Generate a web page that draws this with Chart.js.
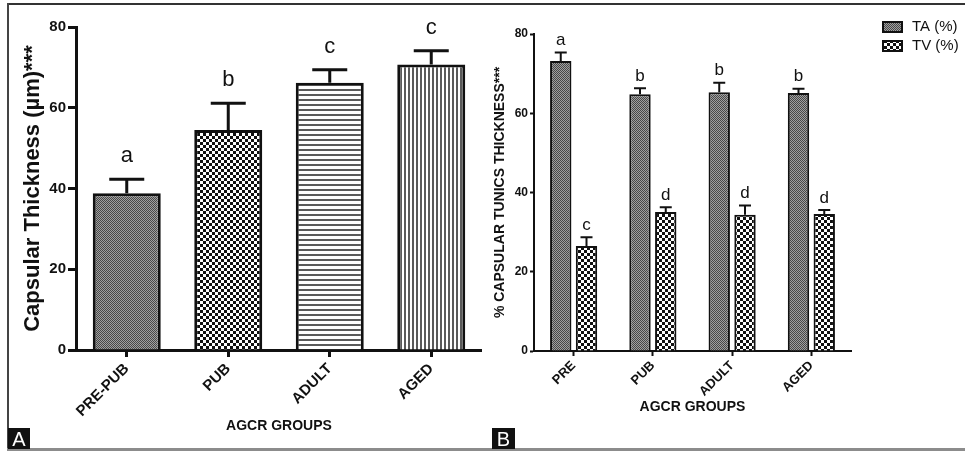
<!DOCTYPE html>
<html><head><meta charset="utf-8">
<script src="https://cdn.jsdelivr.net/npm/chart.js@4.4.0/dist/chart.umd.min.js"></script>
<style>
html,body{margin:0;padding:0;background:#fff;}
#wrap{position:relative;width:965px;height:451px;overflow:hidden;background:#fff;}
#ca{position:absolute;left:8px;top:4px;}
#cb{position:absolute;left:482px;top:4px;}
.fTop{position:absolute;left:7px;top:3px;width:958px;height:2px;background:#333;}
.fLeft{position:absolute;left:7px;top:3px;width:2px;height:446px;background:#444;}
.fBot{position:absolute;left:7px;top:448px;width:958px;height:3px;background:#8c8c8c;}
.tag{position:absolute;top:428px;height:21px;background:#111;color:#fff;font:20px "Liberation Sans",Arial,sans-serif;line-height:22px;text-align:center;}
</style></head>
<body><div id="wrap">
<canvas id="ca" width="474" height="445"></canvas>
<canvas id="cb" width="483" height="445"></canvas>
<div class="fTop"></div><div class="fLeft"></div><div class="fBot"></div>
<div class="tag" style="left:8px;width:22px;">A</div>
<div class="tag" style="left:492px;width:23px;">B</div>
</div>
<script>
// ---- data ----
const groupsA = ['PRE-PUB', 'PUB', 'ADULT', 'AGED'];
const thicknessA = [38.8, 54.5, 66.2, 70.7];
const thicknessErrA = [3.5, 6.6, 3.2, 3.4];
const lettersA = ['a', 'b', 'c', 'c'];

const groupsB = ['PRE', 'PUB', 'ADULT', 'AGED'];
const taB = [73.2, 64.8, 65.3, 65.1];
const taErrB = [2.1, 1.5, 2.4, 1.1];
const taLettersB = ['a', 'b', 'b', 'b'];
const tvB = [26.5, 35.1, 34.4, 34.6];
const tvErrB = [2.2, 1.2, 2.3, 1.0];
const tvLettersB = ['c', 'd', 'd', 'd'];

const yTickValues = [0, 20, 40, 60, 80];

const FONT = '"Liberation Sans", Arial, Helvetica, sans-serif';
const INK = '#111';

// ---- patterns ----
function makePattern(w, h, draw) {
  const c = document.createElement('canvas');
  c.width = w; c.height = h;
  const g = c.getContext('2d');
  draw(g);
  return document.createElement('canvas').getContext('2d').createPattern(c, 'repeat');
}
const finePattern = makePattern(2, 2, g => {
  g.fillStyle = '#a0a0a0'; g.fillRect(0, 0, 2, 2);
  g.fillStyle = '#484848'; g.fillRect(0, 0, 1, 1); g.fillRect(1, 1, 1, 1);
});
const checkPattern = makePattern(6, 6, g => {
  g.fillStyle = '#fff'; g.fillRect(0, 0, 6, 6);
  g.fillStyle = '#111'; g.fillRect(0, 0, 3, 3); g.fillRect(3, 3, 3, 3);
});
const hLinePattern = makePattern(5, 5, g => {
  g.fillStyle = '#fff'; g.fillRect(0, 0, 5, 5);
  g.fillStyle = '#5a5a5a'; g.fillRect(0, 0, 5, 2);
});
const vLinePattern = makePattern(4, 4, g => {
  g.fillStyle = '#fff'; g.fillRect(0, 0, 4, 4);
  g.fillStyle = '#5a5a5a'; g.fillRect(0, 0, 2, 4);
});

// ---- plugins ----
const errorPlugin = {
  id: 'errbars',
  afterDatasetsDraw(chart, args, opts) {
    const ctx = chart.ctx, y = chart.scales.y;
    chart.data.datasets.forEach((ds, i) => {
      const meta = chart.getDatasetMeta(i);
      meta.data.forEach((bar, j) => {
        const top = y.getPixelForValue(ds.data[j] + ds.errors[j]);
        ctx.save();
        ctx.strokeStyle = INK; ctx.lineWidth = opts.lineWidth;
        ctx.beginPath();
        ctx.moveTo(bar.x, bar.y); ctx.lineTo(bar.x, top);
        ctx.moveTo(bar.x - opts.cap / 2, top); ctx.lineTo(bar.x + opts.cap / 2, top);
        ctx.stroke();
        ctx.font = opts.font; ctx.fillStyle = INK;
        ctx.textAlign = 'center'; ctx.textBaseline = 'middle';
        ctx.fillText(ds.letters[j], bar.x, top - opts.gap);
        ctx.restore();
      });
    });
  }
};

const legendPlugin = {
  id: 'sideLegend',
  afterDraw(chart, args, opts) {
    if (!opts.show) return;
    const ctx = chart.ctx;
    chart.data.datasets.forEach((ds, i) => {
      const y0 = opts.y + i * opts.step;
      ctx.save();
      ctx.fillStyle = ds.backgroundColor;
      ctx.fillRect(opts.x, y0, 21, 12);
      ctx.strokeStyle = INK; ctx.lineWidth = 2;
      ctx.strokeRect(opts.x + 1, y0 + 1, 19, 10);
      ctx.fillStyle = INK; ctx.font = '15px ' + FONT;
      ctx.textAlign = 'left'; ctx.textBaseline = 'middle';
      ctx.fillText(ds.label, opts.x + 30, y0 + 6);
      ctx.restore();
    });
  }
};

function yScale(width, tickFont, tickLen, lw, title, titleFont, titlePad) {
  return {
    min: 0, max: 80,
    afterBuildTicks(s) { s.ticks = yTickValues.map(v => ({ value: v })); },
    afterFit(s) { s.width = width; },
    ticks: { font: { family: FONT, size: tickFont, weight: 'bold' }, color: INK, padding: 2 },
    grid: { drawOnChartArea: false, tickLength: tickLen, tickWidth: lw, tickColor: INK },
    border: { width: lw, color: INK },
    title: { display: true, text: title, color: INK,
      font: { family: FONT, size: titleFont, weight: 'bold' }, padding: { top: titlePad, bottom: 0 } }
  };
}
function xScale(height, tickFont, tickLen, lw, tickPad, titlePad) {
  return {
    afterFit(s) { s.height = height; },
    ticks: { minRotation: 45, maxRotation: 45, autoSkip: false, padding: tickPad,
      font: { family: FONT, size: tickFont, weight: 'bold' }, color: INK },
    grid: { offset: false, drawOnChartArea: false, tickLength: tickLen, tickWidth: lw, tickColor: INK },
    border: { width: lw, color: INK },
    title: { display: true, text: 'AGCR GROUPS', color: INK,
      font: { family: FONT, size: 14, weight: 'bold' }, padding: { top: 0, bottom: titlePad } }
  };
}

// ---- chart A ----
new Chart(document.getElementById('ca'), {
  type: 'bar',
  data: {
    labels: groupsA,
    datasets: [{
      label: 'Capsular Thickness',
      data: thicknessA,
      errors: thicknessErrA,
      letters: lettersA,
      backgroundColor: [finePattern, checkPattern, hLinePattern, vLinePattern],
      borderColor: INK, borderWidth: 3,
      barPercentage: 0.67, categoryPercentage: 1.0
    }]
  },
  options: {
    responsive: false, animation: false,
    layout: { padding: { top: 23, right: 0, left: 0, bottom: 0 } },
    plugins: { legend: { display: false }, tooltip: { enabled: false },
      errbars: { lineWidth: 3, cap: 35, gap: 23, font: '22px ' + FONT },
      sideLegend: { show: false } },
    scales: {
      x: xScale(99, 15, 7, 3, 3, 14),
      y: yScale(68, 15, 8, 3, 'Capsular Thickness (µm)***', 22, 12)
    }
  },
  plugins: [errorPlugin, legendPlugin]
});

// ---- chart B ----
new Chart(document.getElementById('cb'), {
  type: 'bar',
  data: {
    labels: groupsB,
    datasets: [{
      label: 'TA (%)', data: taB, errors: taErrB, letters: taLettersB,
      backgroundColor: finePattern, borderColor: INK, borderWidth: 2,
      barPercentage: 0.83, categoryPercentage: 0.65
    }, {
      label: 'TV (%)', data: tvB, errors: tvErrB, letters: tvLettersB,
      backgroundColor: checkPattern, borderColor: INK, borderWidth: 2,
      barPercentage: 0.83, categoryPercentage: 0.65
    }]
  },
  options: {
    responsive: false, animation: false,
    layout: { padding: { top: 30, right: 114, left: 0, bottom: 0 } },
    plugins: { legend: { display: false }, tooltip: { enabled: false },
      errbars: { lineWidth: 2, cap: 12, gap: 12, font: '17px ' + FONT },
      sideLegend: { show: true, x: 400, y: 17, step: 19 } },
    scales: {
      x: xScale(98, 13, 5, 2, 2, 33),
      y: yScale(52, 12, 4, 2, '% CAPSULAR TUNICS THICKNESS***', 14, 10)
    }
  },
  plugins: [errorPlugin, legendPlugin]
});
</script>
</body></html>
